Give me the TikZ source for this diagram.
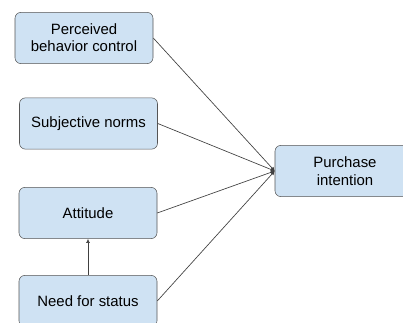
\documentclass[tikz,border=0pt]{standalone}
\usepackage{fontspec}
\setmainfont{Liberation Sans}
\usetikzlibrary{arrows.meta}
\definecolor{boxfill}{HTML}{CFE2F3}
\definecolor{boxline}{HTML}{555555}

\begin{document}
\begin{tikzpicture}[x=0.75pt, y=-0.75pt,
  factor/.style={draw=boxline, rounded corners=4.5pt, fill=boxfill, align=center,
                 minimum width=103.5pt, minimum height=38.5pt, inner sep=2pt,
                 font=\fontsize{11.2}{13}\selectfont},
  arr/.style={-{Latex[length=3pt,width=3pt]}, draw=black!75, line width=0.5pt}]
\useasboundingbox (0,0) rectangle (403,323);
% predictors
\node[factor] (pbc) at (84,38) {Perceived\\behavior control};
\node[factor] (sn) at (88.5,123.5) {Subjective norms};
\node[factor] (att) at (88,213) {Attitude};
\node[factor] (nfs) at (88,301) {Need for status};
% outcome
\node[factor, minimum width=105pt] (pi) at (345,171) {Purchase\\intention};
\draw[arr] (pbc.east) -- (pi.west);
\draw[arr] (sn.east) -- (pi.west);
\draw[arr] (att.east) -- (pi.west);
\draw[arr] (nfs.east) -- (pi.west);
\draw[arr] (nfs) -- (att);
\end{tikzpicture}
\end{document}
